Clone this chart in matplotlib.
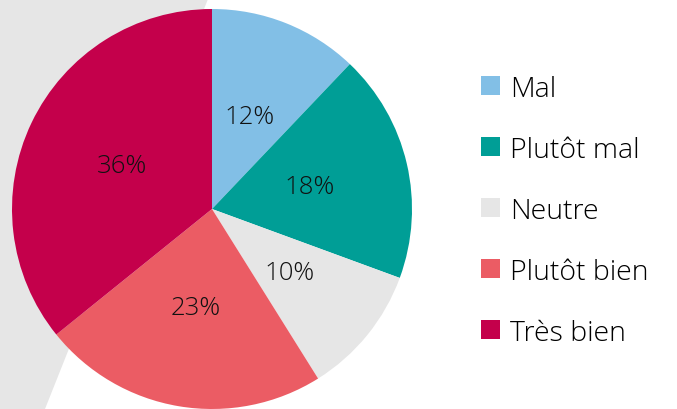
import matplotlib
matplotlib.use("Agg")
import matplotlib.pyplot as plt
from matplotlib.patches import Polygon, Patch

labels = ["Mal", "Plutôt mal", "Neutre", "Plutôt bien", "Très bien"]
values = [12.1, 18.5, 10.5, 23.1, 35.8]
pct_labels = ["12%", "18%", "10%", "23%", "36%"]
colors = ["#82BFE6", "#009E96", "#E6E6E6", "#EB5C64", "#C4004B"]

plt.rcParams['font.family'] = ['Open Sans', 'DejaVu Sans']
plt.rcParams['font.weight'] = 'light'

W, H = 677, 410
fig = plt.figure(figsize=(W / 100, H / 100), dpi=100)

# gray background band behind the pie
band = Polygon([(0, 1), (208 / W, 1), (45 / W, 0), (0, 0)], closed=True,
               transform=fig.transFigure, facecolor="#E6E6E6", edgecolor="none", zorder=0)
fig.patches.append(band)

ax = fig.add_axes([12 / W, 0, 400 / W, 400 / H])
ax.set_zorder(1)
ax.patch.set_alpha(0)
wedges, texts = ax.pie(values, colors=colors, startangle=90, counterclock=False,
                       labels=pct_labels, labeldistance=0.5,
                       wedgeprops=dict(linewidth=0),
                       textprops=dict(fontsize=18.5, color="#111111", ha="center", va="center"))
ax.set_xlim(-1, 1)
ax.set_ylim(-1, 1)
ax.set_aspect("equal")
ax.axis("off")

handles = [Patch(facecolor=c, edgecolor="none") for c in colors]
fig.legend(handles, labels, loc="center left", bbox_to_anchor=(481 / W, 0.484),
           frameon=False, fontsize=20.5, handlelength=0.67, handleheight=0.67,
           handletextpad=0.35, labelspacing=1.16, borderpad=0, borderaxespad=0)

fig.savefig("out.png", dpi=100)
